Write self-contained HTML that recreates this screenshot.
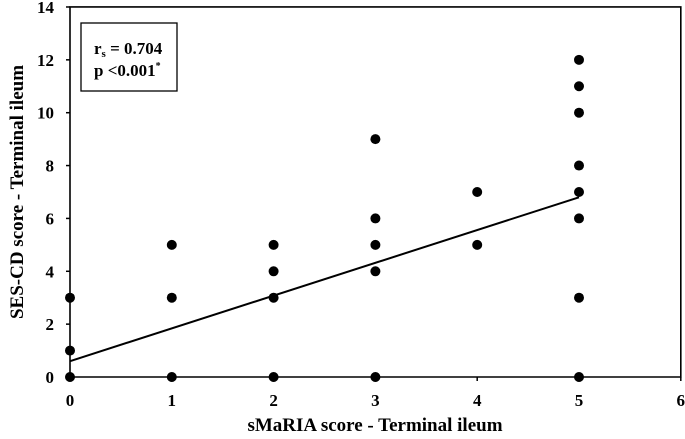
<!DOCTYPE html>
<html><head><meta charset="utf-8"><style>
body{margin:0;background:#fff}
svg text{font-family:"Liberation Serif",serif;font-weight:bold;fill:#000}
</style></head><body>
<svg id="chart" width="685" height="434">
<g id="axes"></g>
<g id="marks"></g>
<rect x="81" y="23" width="96" height="68" fill="#fff" stroke="#000" stroke-width="1.3"/>
<text x="94" y="54" font-size="17">r<tspan font-size="11" dy="3">s</tspan><tspan dy="-3"> = 0.704</tspan></text>
<text x="94" y="76" font-size="17">p &lt;0.001<tspan font-size="10" dy="-7">*</tspan></text>
<text x="375" y="431" font-size="19" text-anchor="middle">sMaRIA score - Terminal ileum</text>
<text transform="translate(23,192) rotate(-90)" font-size="19" text-anchor="middle">SES-CD score - Terminal ileum</text>
</svg>
<script>
const xVals=[0,0,0,1,1,1,2,2,2,2,3,3,3,3,3,4,4,5,5,5,5,5,5,5,5];
const yVals=[0,1,3,0,3,5,0,3,4,5,0,4,5,6,9,5,7,0,3,6,7,8,10,11,12];
const xTicks=[0,1,2,3,4,5,6];
const yTicks=[0,2,4,6,8,10,12,14];
const fitX=[0,5];
const fitY=[0.6,6.8];
const X=v=>70+v*101.8, Y=v=>377-v*26.43;
const NS="http://www.w3.org/2000/svg";
const ax=document.getElementById('axes'), mk=document.getElementById('marks');
function el(p,t,a){const e=document.createElementNS(NS,t);for(const k in a)e.setAttribute(k,a[k]);p.appendChild(e);return e;}
const frame=el(ax,'path',{d:`M${X(0)},${Y(14)}H${X(6)}V${Y(0)}H${X(0)}Z`,fill:'none',stroke:'#000','stroke-width':1.6});


xTicks.forEach(t=>{
  const l=el(ax,'line',{x1:X(t),x2:X(t),y1:Y(0),y2:Y(0)+4,stroke:'#000','stroke-width':1.5});
  
  
  const tx=el(ax,'text',{x:X(t),y:406,'font-size':17,'text-anchor':'middle'});tx.textContent=t;
  
  
});
yTicks.forEach(t=>{
  const l=el(ax,'line',{x1:X(0)-4,x2:X(0),y1:Y(t),y2:Y(t),stroke:'#000','stroke-width':1.5});
  
  
  const tx=el(ax,'text',{x:54,y:Y(t)+6,'font-size':17,'text-anchor':'end'});tx.textContent=t;
  
  
});
const fl=el(mk,'line',{x1:X(fitX[0]),y1:Y(fitY[0]),x2:X(fitX[1]),y2:Y(fitY[1]),stroke:'#000','stroke-width':2});


xVals.forEach((x,i)=>{
  const c=el(mk,'circle',{cx:X(x),cy:Y(yVals[i]),r:5,fill:'#000'});
  
  
});
</script>
</body></html>
